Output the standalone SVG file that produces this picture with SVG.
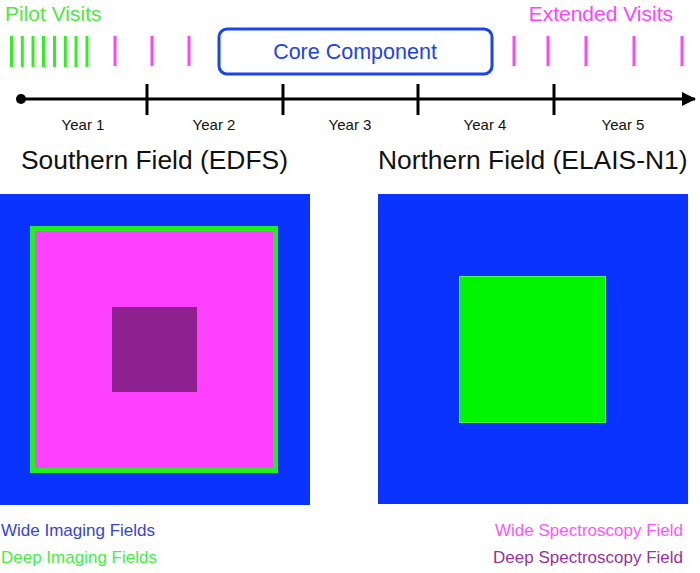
<svg xmlns="http://www.w3.org/2000/svg" width="700" height="573" viewBox="0 0 700 573">
<style>
text{font-family:"Liberation Sans",Arial,Helvetica,sans-serif}
.gt{stroke:#33ee22;stroke-width:3}
.mt{stroke:#ff44ff;stroke-width:3}
.axis{stroke:#000;stroke-width:3;fill:none}
.yr{font-size:15px;fill:#111;text-anchor:middle}
.title{font-size:26.4px;fill:#111}
.leg{font-size:17px}
</style>
<defs>
<marker id="ah" markerWidth="14" markerHeight="14" refX="13" refY="7" orient="auto" markerUnits="userSpaceOnUse">
<path d="M0,0 L14,7 L0,14 Z" fill="#000"/>
</marker>
</defs>
<rect width="700" height="573" fill="#fff"/>

<g id="pilot-visits">
<text x="5" y="21" font-size="21" fill="#4ee83e">Pilot Visits</text>
<g class="gt">
<line x1="11.5" y1="36" x2="11.5" y2="67"/>
<line x1="22.3" y1="36" x2="22.3" y2="67"/>
<line x1="33" y1="36" x2="33" y2="67"/>
<line x1="43.5" y1="36" x2="43.5" y2="67"/>
<line x1="54.5" y1="36" x2="54.5" y2="67"/>
<line x1="65.3" y1="36" x2="65.3" y2="67"/>
<line x1="76" y1="36" x2="76" y2="67"/>
<line x1="87" y1="36" x2="87" y2="67"/>
</g>
<g class="mt">
<line x1="115" y1="36" x2="115" y2="66"/>
<line x1="152" y1="36" x2="152" y2="66"/>
<line x1="189" y1="36" x2="189" y2="66"/>
</g>
</g>

<g id="extended-visits">
<text x="673" y="21" font-size="21" fill="#ff44ff" text-anchor="end">Extended Visits</text>
<g class="mt">
<line x1="514" y1="36" x2="514" y2="66"/>
<line x1="548" y1="36" x2="548" y2="66"/>
<line x1="586" y1="36" x2="586" y2="66"/>
<line x1="634" y1="36" x2="634" y2="66"/>
<line x1="682" y1="36" x2="682" y2="66"/>
</g>
</g>

<g id="core-component">
<rect x="219" y="29" width="273" height="45" rx="8" ry="8" fill="#fff" stroke="#1a44ee" stroke-width="3"/>
<text x="355" y="59" font-size="21.5" fill="#1a44ee" text-anchor="middle">Core Component</text>
</g>

<g id="timeline">
<circle cx="21" cy="99" r="5" fill="#000"/>
<line class="axis" x1="21" y1="99" x2="695" y2="99" marker-end="url(#ah)"/>
<line class="axis" x1="147" y1="84" x2="147" y2="115"/>
<line class="axis" x1="283" y1="84" x2="283" y2="115"/>
<line class="axis" x1="418" y1="84" x2="418" y2="115"/>
<line class="axis" x1="554" y1="84" x2="554" y2="115"/>
<text class="yr" x="83" y="130">Year 1</text>
<text class="yr" x="214" y="130">Year 2</text>
<text class="yr" x="350" y="130">Year 3</text>
<text class="yr" x="485" y="130">Year 4</text>
<text class="yr" x="623" y="130">Year 5</text>
</g>

<g id="southern-field">
<text class="title" x="21" y="169">Southern Field (EDFS)</text>
<rect x="0" y="194" width="310" height="311" fill="#0a33ff"/>
<rect x="32.5" y="228.5" width="243" height="242" fill="#ff40ff" stroke="#22ee22" stroke-width="5"/>
<rect x="112" y="307" width="85" height="85" fill="#8e2190"/>
</g>

<g id="northern-field">
<text class="title" x="378" y="169">Northern Field (ELAIS-N1)</text>
<rect x="378" y="194" width="310" height="310" fill="#0a33ff"/>
<rect x="459.5" y="276.5" width="146" height="146" fill="#00f500" stroke="#44ff44" stroke-width="1"/>
</g>

<g id="legend">
<text class="leg" x="1" y="536" fill="#3344dd">Wide Imaging Fields</text>
<text class="leg" x="1" y="563" fill="#44ee44">Deep Imaging Fields</text>
<text class="leg" x="683" y="536" fill="#ff55ff" text-anchor="end">Wide Spectroscopy Field</text>
<text class="leg" x="683" y="563" fill="#993399" text-anchor="end">Deep Spectroscopy Field</text>
</g>
</svg>
